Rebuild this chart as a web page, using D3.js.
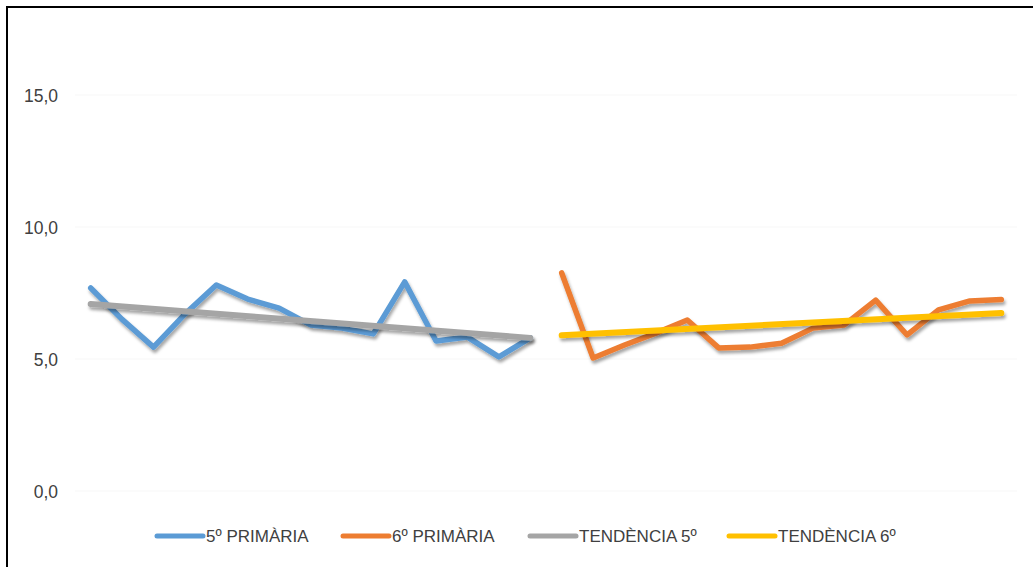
<!DOCTYPE html>
<html>
<head>
<meta charset="utf-8">
<script src="https://cdn.jsdelivr.net/npm/d3@7"></script>
<style>
  html, body { margin: 0; padding: 0; background: #fff; }
  svg { display: block; }
  text { font-family: "Liberation Sans", Arial, sans-serif; fill: #404040; }
</style>
</head>
<body>
<svg id="chart" width="1033" height="567"></svg>
<script>
// Sessions along the category axis: 5º first, then 6º
const categories = d3.range(1, 31).map(d => "S" + d);
const cat5 = categories.slice(0, 15);
const cat6 = categories.slice(15);

// Marks per session
const values5 = [7.69, 6.5, 5.45, 6.7, 7.8, 7.27, 6.93, 6.29, 6.17, 5.95, 7.92, 5.68, 5.83, 5.08, 5.8];
const values6 = [8.26, 5.04, 5.53, 5.98, 6.48, 5.42, 5.45, 5.6, 6.17, 6.29, 7.23, 5.91, 6.86, 7.2, 7.25];

// Linear trend endpoints (first and last session of each course)
const trend5 = [7.08, 5.8];
const trend6 = [5.9, 6.74];

const yTicks = [0, 5, 10, 15];
const seriesNames = ["5º PRIMÀRIA", "6º PRIMÀRIA", "TENDÈNCIA 5º", "TENDÈNCIA 6º"];
const seriesColors = ["#5B9BD5", "#ED7D31", "#A5A5A5", "#FFC000"];

const svg = d3.select("#chart");

// Outer chart frame
svg.append("rect")
  .attr("x", 7).attr("y", 7).attr("width", 1040).attr("height", 580)
  .attr("fill", "none").attr("stroke", "#000").attr("stroke-width", 2);

const plot = { left: 75, right: 1017, top: 29, bottom: 491 };

const x = d3.scaleBand().domain(categories).range([plot.left, plot.right]);
const xc = d => x(d) + x.bandwidth() / 2;
const y = d3.scaleLinear().domain([0, 17.5]).range([plot.bottom, plot.top]);

// Soft shadow under the series lines
const defs = svg.append("defs");
const f = defs.append("filter").attr("id", "shadow")
  .attr("x", "-5%").attr("y", "-20%").attr("width", "110%").attr("height", "160%");
f.append("feDropShadow").attr("dx", 1.5).attr("dy", 3).attr("stdDeviation", 1.8)
  .attr("flood-color", "#000").attr("flood-opacity", 0.35);

// Gridlines
svg.append("g").selectAll("line").data(yTicks).join("line")
  .attr("x1", plot.left).attr("x2", plot.right)
  .attr("y1", d => y(d)).attr("y2", d => y(d))
  .attr("stroke", "#f7f7f7").attr("stroke-width", 1);

// Y axis labels
const yAxis = d3.axisLeft(y).tickValues(yTicks)
  .tickFormat(d => d3.format(".1f")(d).replace(".", ","))
  .tickSize(0).tickPadding(0);
const ya = svg.append("g").attr("transform", "translate(58,1)").call(yAxis);
ya.select(".domain").remove();
ya.selectAll("text").style("font-size", "17.5px").attr("fill", "#404040")
  .style("font-family", "'Liberation Sans', Arial, sans-serif");

const line = d3.line().x(d => xc(d[0])).y(d => y(d[1]));

const series = [
  { pts: cat5.map((c, i) => [c, values5[i]]), color: seriesColors[0], w: 5.5 },
  { pts: cat6.map((c, i) => [c, values6[i]]), color: seriesColors[1], w: 5.5 },
  { pts: [[cat5[0], trend5[0]], [cat5[cat5.length - 1], trend5[1]]], color: seriesColors[2], w: 6 },
  { pts: [[cat6[0], trend6[0]], [cat6[cat6.length - 1], trend6[1]]], color: seriesColors[3], w: 6 }
];

svg.append("g").selectAll("path").data(series).join("path")
  .attr("d", d => line(d.pts))
  .attr("fill", "none")
  .attr("stroke", d => d.color)
  .attr("stroke-width", d => d.w)
  .attr("stroke-linecap", "round")
  .attr("stroke-linejoin", "round")
  .attr("filter", "url(#shadow)");

// Legend
const legendX = [157, 343, 530, 729];
const lg = svg.append("g").selectAll("g").data(seriesNames).join("g")
  .attr("transform", (d, i) => `translate(${legendX[i]},536)`);
lg.append("line").attr("x1", 0).attr("x2", 46).attr("y1", 0).attr("y2", 0)
  .attr("stroke", (d, i) => seriesColors[i]).attr("stroke-width", 5)
  .attr("stroke-linecap", "round");
lg.append("text").attr("x", 49).attr("y", 0).attr("dy", "0.35em")
  .style("font-size", "17px").text(d => d);
</script>
</body>
</html>
